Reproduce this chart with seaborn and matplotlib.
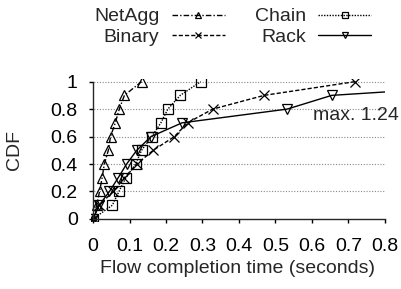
import matplotlib
matplotlib.use("Agg")
import matplotlib.pyplot as plt
import seaborn as sns
import pandas as pd

# ---- data ----
cdf_levels = [0.0, 0.1, 0.2, 0.3, 0.4, 0.5, 0.6, 0.7, 0.8, 0.9, 1.0]
netagg_x = [0, 0.010, 0.018, 0.025, 0.031, 0.042, 0.048, 0.061, 0.072, 0.086, 0.133]
binary_x = [0, 0.016, 0.056, 0.086, 0.120, 0.165, 0.223, 0.259, 0.328, 0.469, 0.718]
chain_x = [0, 0.053, 0.071, 0.090, 0.117, 0.133, 0.161, 0.186, 0.205, 0.239, 0.295]
rack_x = [0, 0.017, 0.045, 0.069, 0.092, 0.120, 0.159, 0.244, 0.532, 0.654, 1.24]
series_names = ["NetAgg", "Binary", "Chain", "Rack"]
x_ticks = [0, 0.1, 0.2, 0.3, 0.4, 0.5, 0.6, 0.7, 0.8]
y_ticks = [0, 0.2, 0.4, 0.6, 0.8, 1.0]
annotation = "max. 1.24"

series_x = dict(zip(series_names, [netagg_x, binary_x, chain_x, rack_x]))
df = pd.concat([pd.DataFrame({"x": xs, "y": cdf_levels, "s": name})
                for name, xs in series_x.items()], ignore_index=True)

styles = {
    "NetAgg": dict(marker="^", dashes=(4, 1.5, 1, 1.5)),
    "Binary": dict(marker="x", dashes=(3, 1.5)),
    "Chain": dict(marker="s", dashes=(1, 1)),
    "Rack": dict(marker="v", dashes=None),
}

sns.set_style("ticks")
plt.rcParams["font.family"] = ["Liberation Sans", "DejaVu Sans"]
FS = 14

fig = plt.figure(figsize=(4.02, 2.89), dpi=100)
ax = fig.add_axes([0.2259, 0.2367, 0.7318, 0.4903])

for name in series_names:
    st = styles[name]
    kw = dict(marker=st["marker"], markersize=6.5, markerfacecolor="none",
              markeredgecolor="black", markeredgewidth=0.9)
    sub = df[df["s"] == name]
    lines_before = len(ax.get_lines())
    sns.lineplot(data=sub, x="x", y="y", ax=ax, color="black", lw=1.0,
                 sort=False, estimator=None, label=name, **kw)
    ln = ax.get_lines()[lines_before]
    if st["dashes"] is not None:
        ln.set_dashes(st["dashes"])
    ln.set_dash_capstyle("butt")

ax.set_xlim(-0.006, 0.8)
ax.set_ylim(-0.012, 1.02)
ax.spines["left"].set_position(("data", 0))
ax.spines["bottom"].set_position(("data", 0))
ax.spines["left"].set_bounds(0, 1.0)
ax.spines["bottom"].set_bounds(0, 0.8)
ax.spines["top"].set_visible(False)
ax.spines["right"].set_visible(False)
for sp in ("left", "bottom"):
    ax.spines[sp].set_linewidth(1.0)
ax.set_xticks(x_ticks)
ax.set_xticklabels([f"{v:g}" for v in x_ticks])
ax.set_yticks(y_ticks)
ax.set_yticklabels([f"{v:g}" for v in y_ticks])
ax.tick_params(axis="both", direction="out", length=3, width=1, labelsize=FS,
               colors="black")
ax.tick_params(axis="x", pad=10.5)
ax.tick_params(axis="y", pad=8)
for yv in y_ticks[1:]:
    ax.axhline(yv, xmin=0, xmax=1, color="#888888", lw=0.8, ls=(0, (1, 1.5)), zorder=0)

ax.set_xlabel("Flow completion time (seconds)", fontsize=FS, labelpad=4)
ax.set_ylabel("CDF", fontsize=FS, labelpad=20)
ax.text(0.602, 0.75, annotation, fontsize=FS, ha="left", va="center",
        clip_on=False, transform=ax.transData)

handles, labels = ax.get_legend_handles_labels()
ax.get_legend().remove()
fig.legend(handles, labels, ncol=2, markerfirst=False, frameon=False,
           loc="upper left", bbox_to_anchor=(0.2, 1.02), fontsize=FS,
           handlelength=2.7, handletextpad=0.65, columnspacing=1.55,
           labelspacing=0.16, borderpad=0.2, markerscale=0.75)

fig.savefig("out.png", dpi=100)
